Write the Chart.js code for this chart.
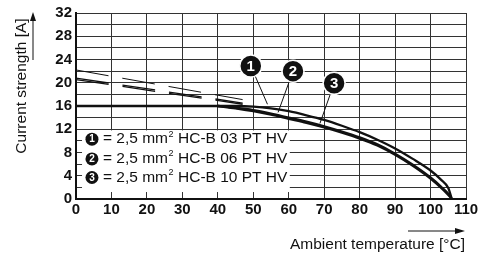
<!DOCTYPE html>
<html>
<head>
<meta charset="utf-8">
<script src="https://cdn.jsdelivr.net/npm/chart.js@4/dist/chart.umd.min.js"></script>
<style>
  html, body { margin: 0; padding: 0; background: #fff; }
  #wrap { width: 489px; height: 258px; }
</style>
</head>
<body>
<div id="wrap"><canvas id="chart"></canvas></div>
<script>
// derating curves (ambient temperature in degC -> current in A)
var curveTemps = [40, 45, 50, 55, 60, 65, 70, 75, 80, 85, 90, 95, 100, 103, 105, 106];
var amps03 = [16, 16.0, 15.9, 15.6, 15.1, 14.4, 13.6, 12.6, 11.5, 10.2, 8.7, 6.9, 4.9, 3.3, 1.9, 0];
var amps06 = [16, 15.7, 15.3, 14.7, 14.0, 13.3, 12.5, 11.6, 10.6, 9.4, 7.8, 5.9, 3.7, 2.1, 0.9, 0];
var amps10 = [16, 15.6, 15.1, 14.5, 13.8, 13.1, 12.3, 11.4, 10.4, 9.2, 7.6, 5.7, 3.5, 1.9, 0.7, 0];

// flat limit at 16 A
var limitTemps = [0, 40];
var limitAmps = [16, 16];

// dashed extensions
var dashTemps = [0, 47];
var dash03 = [22.2, 17.1];
var dash06 = [20.8, 16.5];
var dash10 = [20.55, 16.3];

var yTickLabels = [0, 4, 8, 12, 16, 20, 24, 28, 32];
var xTickLabels = [0, 10, 20, 30, 40, 50, 60, 70, 80, 90, 100, 110];
var legendNames = ["HC-B 03 PT HV", "HC-B 06 PT HV", "HC-B 10 PT HV"];
var seriesNumbers = ["1", "2", "3"];

function pts(xs, ys) {
  return xs.map(function (x, i) { return { x: x, y: ys[i] }; });
}

var FONT = "'Liberation Sans', Arial, Helvetica, sans-serif";

function solid(data, w) {
  return {
    data: data,
    borderColor: "#111",
    borderWidth: w,
    pointRadius: 0,
    showLine: true,
    fill: false,
    cubicInterpolationMode: "monotone",
  };
}
function dashed(data, w) {
  return {
    data: data,
    borderColor: "#111",
    borderWidth: w,
    borderDash: [33, 14],
    pointRadius: 0,
    showLine: true,
    fill: false,
  };
}

var extras = {
  id: "extras",
  beforeDatasetsDraw: function (chart) {
    var ctx = chart.ctx, xs = chart.scales.x, ys = chart.scales.y;
    // legend box
    var l = xs.getPixelForValue(1.7), r = xs.getPixelForValue(60.3);
    var t = ys.getPixelForValue(11.8), b = ys.getPixelForValue(1.2);
    ctx.save();
    ctx.fillStyle = "#fff";
    ctx.fillRect(l, t, r - l, b - t);
    var rows = [10.3, 6.9, 3.7];
    ctx.textBaseline = "middle";
    for (var i = 0; i < 3; i++) {
      var y = ys.getPixelForValue(rows[i]);
      var cx = xs.getPixelForValue(4.5);
      ctx.fillStyle = "#111";
      ctx.beginPath();
      ctx.arc(cx, y, 6.5, 0, Math.PI * 2);
      ctx.fill();
      ctx.fillStyle = "#fff";
      ctx.font = "bold 10px " + FONT;
      ctx.textAlign = "center";
      ctx.fillText(seriesNumbers[i], cx, y + 0.5);
      ctx.fillStyle = "#111";
      ctx.textAlign = "left";
      ctx.font = "15.5px " + FONT;
      var x0 = 103;
      var s1 = "= 2,5 mm";
      ctx.fillText(s1, x0, y);
      var w1 = ctx.measureText(s1).width;
      ctx.font = "9px " + FONT;
      ctx.fillText("2", x0 + w1 + 0.5, y - 5);
      ctx.font = "15.5px " + FONT;
      ctx.fillText(legendNames[i], 178, y);
    }
    ctx.restore();
  },
  afterDatasetsDraw: function (chart) {
    var ctx = chart.ctx, xs = chart.scales.x, ys = chart.scales.y;
    var calls = [
      { c: [49.3, 22.9], t: [54.0, 16.3] },
      { c: [61.2, 22.0], t: [57.0, 14.9] },
      { c: [72.8, 19.9], t: [68.8, 13.0] },
    ];
    ctx.save();
    calls.forEach(function (k, i) {
      var cx = xs.getPixelForValue(k.c[0]), cy = ys.getPixelForValue(k.c[1]);
      var tx = xs.getPixelForValue(k.t[0]), ty = ys.getPixelForValue(k.t[1]);
      ctx.strokeStyle = "#111";
      ctx.lineWidth = 1;
      ctx.beginPath();
      ctx.moveTo(cx, cy);
      ctx.lineTo(tx, ty);
      ctx.stroke();
      ctx.beginPath();
      ctx.arc(cx, cy, 11, 0, Math.PI * 2);
      ctx.fillStyle = "#111";
      ctx.fill();
      ctx.lineWidth = 1.5;
      ctx.strokeStyle = "#fff";
      ctx.stroke();
      ctx.fillStyle = "#fff";
      ctx.font = "bold 15px " + FONT;
      ctx.textAlign = "center";
      ctx.textBaseline = "middle";
      ctx.fillText(seriesNumbers[i], cx, cy + 1);
    });
    ctx.restore();
  },
  afterDraw: function (chart) {
    var ctx = chart.ctx;
    ctx.save();
    ctx.fillStyle = "#111";
    ctx.strokeStyle = "#111";
    ctx.font = "15.5px " + FONT;
    // y title
    ctx.save();
    ctx.translate(22, 86);
    ctx.rotate(-Math.PI / 2);
    ctx.textAlign = "center";
    ctx.textBaseline = "middle";
    ctx.fillText("Current strength [A]", 0, 0);
    ctx.restore();
    // y arrow
    ctx.lineWidth = 1;
    ctx.beginPath();
    ctx.moveTo(33, 60);
    ctx.lineTo(33, 20);
    ctx.stroke();
    ctx.beginPath();
    ctx.moveTo(33, 12);
    ctx.lineTo(30, 21);
    ctx.lineTo(36, 21);
    ctx.closePath();
    ctx.fill();
    // x title
    ctx.textAlign = "right";
    ctx.textBaseline = "middle";
    ctx.fillText("Ambient temperature [\u00B0C]", 465, 245);
    // x arrow
    ctx.beginPath();
    ctx.moveTo(408, 231);
    ctx.lineTo(456, 231);
    ctx.stroke();
    ctx.beginPath();
    ctx.moveTo(465, 231);
    ctx.lineTo(455, 228);
    ctx.lineTo(455, 234);
    ctx.closePath();
    ctx.fill();
    ctx.restore();
  },
};

var ctx = document.getElementById("chart").getContext("2d");
var chart = new Chart(ctx, {
  type: "scatter",
  data: {
    datasets: [
      solid(pts(limitTemps, limitAmps), 2.5),
      solid(pts(curveTemps, amps03), 2.3),
      solid(pts(curveTemps, amps06), 2.3),
      solid(pts(curveTemps, amps10), 2.3),
      dashed(pts(dashTemps, dash03), 1),
      dashed(pts(dashTemps, dash06), 1.3),
      dashed(pts(dashTemps, dash10), 1.3),
    ],
  },
  options: {
    responsive: true,
    maintainAspectRatio: false,
    animation: false,
    layout: { padding: { left: 0, top: 10, right: 23, bottom: 0 } },
    plugins: { legend: { display: false }, tooltip: { enabled: false } },
    scales: {
      x: {
        type: "linear",
        min: 0,
        max: 110,
        ticks: {
          stepSize: 10,
          color: "#111",
          font: { family: FONT, size: 15, weight: "bold" },
          padding: 2,
          maxRotation: 0,
          callback: function (v) { return xTickLabels.indexOf(v) >= 0 ? v : ""; },
        },
        grid: { color: "#333", lineWidth: 1, drawTicks: false },
        border: { color: "#111", width: 2 },
        afterFit: function (s) { s.height = 59; },
      },
      y: {
        type: "linear",
        min: 0,
        max: 32,
        ticks: {
          stepSize: 2,
          color: "#111",
          font: { family: FONT, size: 15, weight: "bold" },
          padding: 4,
          autoSkip: false,
          callback: function (v) { return yTickLabels.indexOf(v) >= 0 ? v : ""; },
        },
        grid: { color: "#333", lineWidth: 1, drawTicks: false },
        border: { color: "#111", width: 2 },
        afterFit: function (s) { s.width = 76; },
      },
    },
  },
  plugins: [extras],
});
</script>
</body>
</html>
